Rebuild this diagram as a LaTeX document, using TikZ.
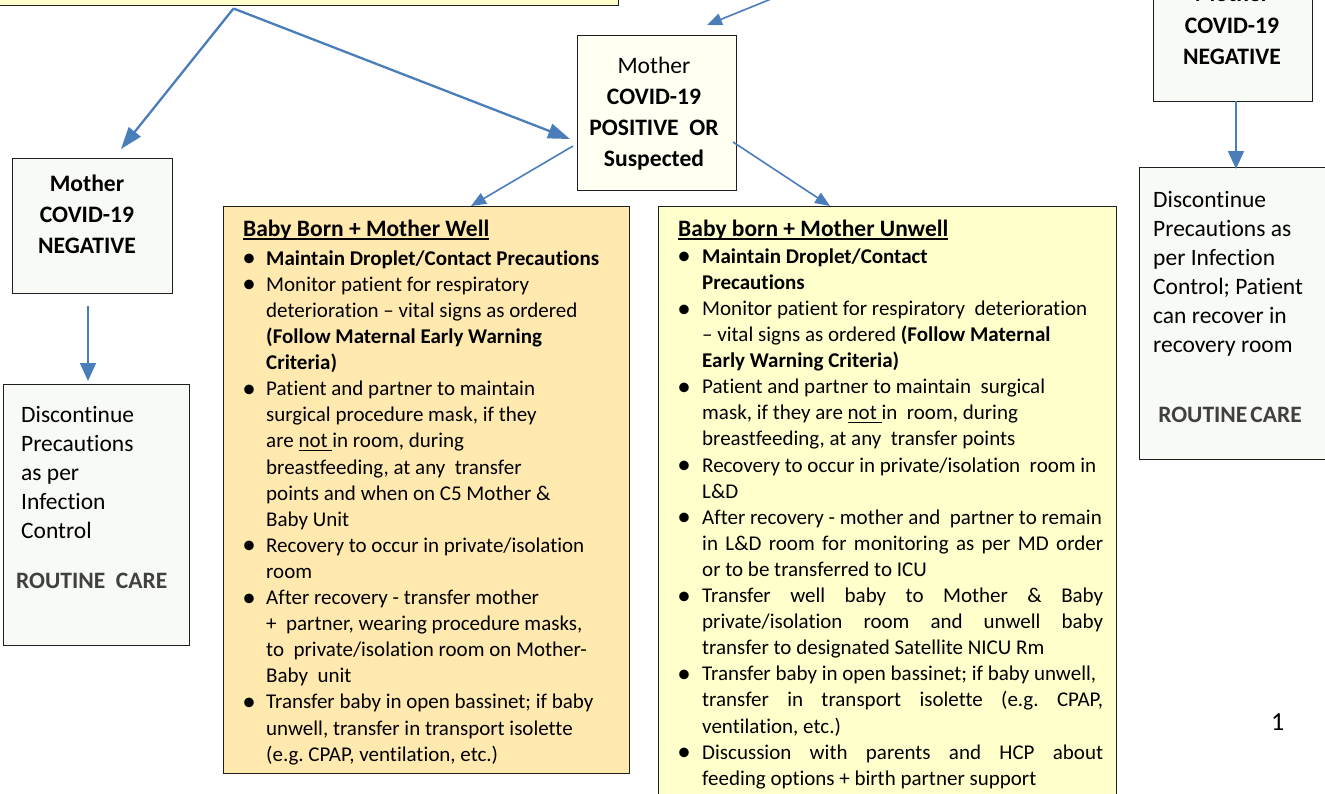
\documentclass[tikz,border=0pt]{standalone}
\usepackage{fontspec}
\setmainfont{Carlito}[Ligatures={NoCommon}]
\usetikzlibrary{arrows.meta}
\definecolor{arrowblue}{RGB}{74,126,187}
\definecolor{topfill}{RGB}{255,255,204}
\definecolor{posfill}{RGB}{255,255,242}
\definecolor{negfill}{RGB}{248,250,245}
\definecolor{wellfill}{RGB}{255,233,175}
\definecolor{unwellfill}{RGB}{255,255,204}
\definecolor{routinegray}{RGB}{64,64,64}
\definecolor{boxline}{RGB}{30,30,30}
\newsavebox\ulbox
\newcommand\myul[1]{\sbox\ulbox{#1}\rlap{\rule[-3.5pt]{\wd\ulbox}{1.3pt}}\usebox\ulbox}
\newcommand\bul{\raisebox{-1.6pt}{\fontsize{27}{27}\selectfont\textbullet}}
\newcommand\bia{\makebox[23pt][l]{\hspace{-0.8pt}\bul}}
\newcommand\cna{\hspace*{23pt}}
\newcommand\bib{\makebox[24pt][l]{\hspace{-0.8pt}\bul}}
\newcommand\cnb{\hspace*{24pt}}
\newcommand\jst[1]{\makebox[401pt][s]{#1}}
\tikzset{
  boxst/.style={draw=boxline, line width=1.3pt, anchor=north west, inner sep=0pt},
  txt/.style={inner sep=0pt, align=left, anchor=north west},
  ctxt/.style={inner sep=0pt, align=center, anchor=north},
  bodyfont/.style={font=\fontsize{21}{26.1}\selectfont},
  bigfont/.style={font=\fontsize{23.6}{31}\selectfont},
  discfont/.style={font=\fontsize{23.5}{29}\selectfont},
  arrbig/.style={draw=arrowblue, line width=2.3pt, -{Triangle[length=22pt,width=15pt]}},
  arrmid/.style={draw=arrowblue, line width=1.8pt, -{Triangle[length=18pt,width=16pt]}},
  arrsmall/.style={draw=arrowblue, line width=1.6pt, -{Triangle[length=15pt,width=12pt]}}
}
\begin{document}
\begin{tikzpicture}[x=1pt,y=-1pt]
\useasboundingbox (0,0) rectangle (1325,793);
\clip (0,0) rectangle (1325,793);
% boxes
\node[boxst, fill=topfill, minimum width=623pt, minimum height=64.5pt] (topbox) at (-5,-60) {};
\node[boxst, fill=posfill, minimum width=159pt, minimum height=155pt] (posbox) at (577,35) {};
\node[boxst, fill=negfill, minimum width=160pt, minimum height=135pt] (negbox) at (12,158) {};
\node[boxst, fill=negfill, minimum width=186pt, minimum height=261pt] (negdisc) at (3,384) {};
\node[boxst, fill=wellfill, minimum width=406pt, minimum height=567pt] (wellbox) at (223,206) {};
\node[boxst, fill=unwellfill, minimum width=458pt, minimum height=614pt] (unwellbox) at (658,206) {};
\node[boxst, fill=negfill, minimum width=159pt, minimum height=161pt] (rnegbox) at (1153,-60) {};
\node[boxst, fill=negfill, minimum width=206pt, minimum height=292pt] (rdisc) at (1139,167) {};
% texts
\node[ctxt, bigfont] (postext) at (654,51) {\rule{0pt}{22pt}Mother\\\textbf{COVID-19}\\\textbf{POSITIVE\ \ OR}\\\textbf{Suspected}};
\node[ctxt, bigfont] (negtext) at (87,169) {\rule{0pt}{22pt}\textbf{Mother}\\\textbf{COVID-19}\\\textbf{NEGATIVE}};
\node[ctxt, font=\fontsize{23.6}{31.5}\selectfont] (rnegtext) at (1232,-20.5) {\rule{0pt}{22pt}\textbf{Mother}\\\textbf{COVID-19}\\\textbf{NEGATIVE}};
\node[txt, discfont] (negdisctext) at (21,401) {\rule{0pt}{21pt}Discontinue\\Precautions\\as per\\Infection\\Control};
\node[anchor=base west, inner sep=0pt, font=\fontsize{23.5}{29}\selectfont\bfseries, text=routinegray] (negroutine) at (16,588.5) {ROUTINE\ \ CARE};
\node[txt, discfont] (rdisctext) at (1153,186) {\rule{0pt}{21pt}Discontinue\\Precautions as\\per Infection\\Control; Patient\\can recover in\\recovery room};
\node[anchor=base, inner sep=0pt, font=\fontsize{23.5}{29}\selectfont\bfseries, text=routinegray] (rroutine) at (1230,422.5) {ROUTINE\hspace{3pt}CARE};
\node[txt, bodyfont] (welltext) at (243,216) {\rule{0pt}{20pt}{\fontsize{23.5}{26.1}\selectfont\bfseries\myul{Baby Born + Mother Well}}\\[2.9pt]
\bia\textbf{Maintain Droplet/Contact Precautions}\\
\bia Monitor patient for respiratory\\
\cna deterioration -- vital signs as ordered\\
\cna\textbf{(Follow Maternal Early Warning}\\
\cna\textbf{Criteria)}\\
\bia Patient and partner to maintain\\
\cna surgical procedure mask, if they\\
\cna are \myul{not\ }in room, during\\
\cna breastfeeding, at any\ \ transfer\\
\cna points and when on C5 Mother \&\\
\cna Baby Unit\\
\bia Recovery to occur in private/isolation\\
\cna room\\
\bia After recovery - transfer mother\\
\cna +\ \ partner, wearing procedure masks,\\
\cna to\ \ private/isolation room on Mother-\\
\cna Baby\ \ unit\\
\bia Transfer baby in open bassinet; if baby\\
\cna unwell, transfer in transport isolette\\
\cna (e.g.\ CPAP, ventilation, etc.)};
\node[txt, bodyfont] (unwelltext) at (678,216) {\rule{0pt}{20pt}{\fontsize{23.5}{26.1}\selectfont\bfseries\myul{Baby born + Mother Unwell}}\\[0.9pt]
\bib\textbf{Maintain Droplet/Contact}\\
\cnb\textbf{Precautions}\\
\bib Monitor patient for respiratory\ \ deterioration\\
\cnb -- vital signs as ordered \textbf{(Follow Maternal}\\
\cnb\textbf{Early Warning Criteria)}\\
\bib Patient and partner to maintain\ \ surgical\\
\cnb mask, if they are \myul{not\ }in\ \ room, during\\
\cnb breastfeeding, at any\ \ transfer points\\
\bib Recovery to occur in private/isolation\ \ room in\\
\cnb L\&D\\
\bib After recovery - mother and\ \ partner to remain\\
\cnb\jst{in L\&D room for monitoring as per MD order}\\
\cnb or to be transferred to ICU\\
\bib\jst{Transfer well baby to Mother \& Baby}\\
\cnb\jst{private/isolation room and unwell baby}\\
\cnb transfer to designated Satellite NICU Rm\\
\bib Transfer baby in open bassinet; if baby unwell,\\
\cnb\jst{transfer in transport isolette (e.g.\ CPAP,}\\
\cnb ventilation, etc.)\\
\bib\jst{Discussion with parents and HCP about}\\
\cnb feeding options + birth partner support};
\node[anchor=base west, inner sep=0pt, font=\fontsize{26}{30}\selectfont] (pagenum) at (1271,730) {1};
% connector end points
\coordinate (tlout) at (233.5,8.5);
\coordinate (negin) at (121,149);
\coordinate (posin) at (570,139);
\coordinate (offsrc) at (776,-3);
\coordinate (postop) at (707,25);
\coordinate (posout1) at (573,146);
\coordinate (wellin) at (471,206);
\coordinate (posout2) at (733,142);
\coordinate (unwellin) at (830,206);
\coordinate (negout) at (88,306);
\coordinate (negdiscin) at (88,381);
\coordinate (rnegout) at (1236,101);
\coordinate (rdiscin) at (1236,169);
% connectors
\draw[arrbig] (tlout) -- (negin);
\draw[arrbig] (tlout) -- (posin);
\draw[arrsmall] (offsrc) -- (postop);
\draw[arrsmall] (posout1) -- (wellin);
\draw[arrsmall] (posout2) -- (unwellin);
\draw[arrmid] (negout) -- (negdiscin);
\draw[arrmid] (rnegout) -- (rdiscin);
\end{tikzpicture}
\end{document}
